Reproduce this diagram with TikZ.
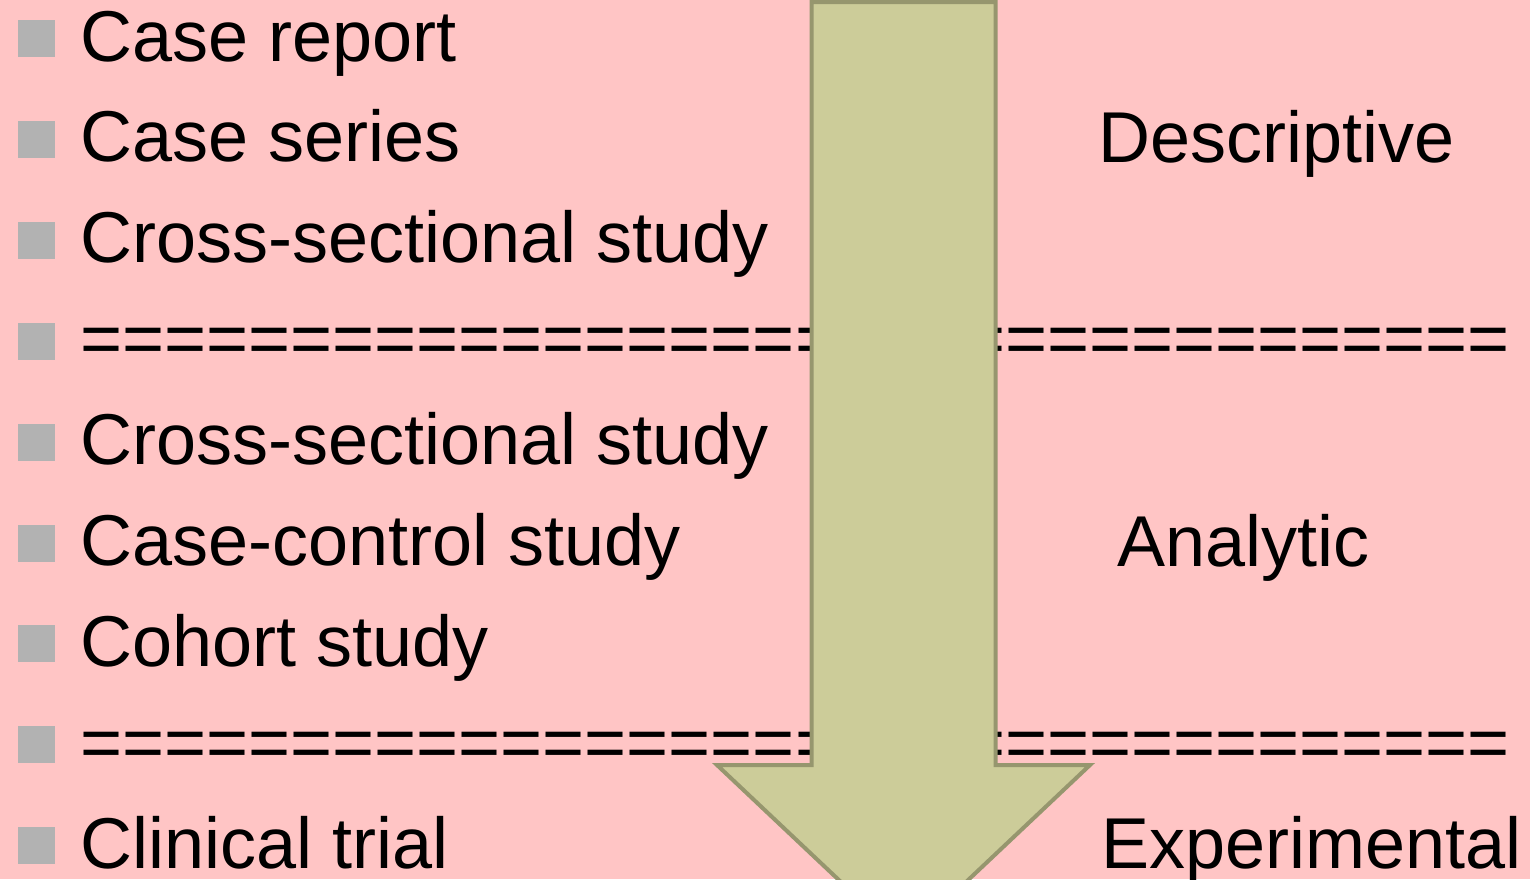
\documentclass[tikz,border=0pt]{standalone}
\usepackage{fontspec}
\setmainfont{Liberation Sans}
\definecolor{slidebg}{RGB}{255,197,197}
\definecolor{bulletgray}{RGB}{178,178,178}
\definecolor{arrowfill}{RGB}{204,204,153}
\definecolor{arrowline}{RGB}{150,150,110}
\begin{document}
\begin{tikzpicture}[x=1pt,y=-1pt,
  item/.style={anchor=base west,inner sep=0pt,font=\fontsize{72}{86}\selectfont},
  bulletsq/.style={fill=bulletgray,draw=none,minimum size=37pt,inner sep=0pt},
  category/.style={anchor=base west,inner sep=0pt,font=\fontsize{72}{86}\selectfont}]
  % background
  \fill[slidebg] (0,0) rectangle (1530,879);
  \useasboundingbox (0,0) rectangle (1530,879);

  % bulleted list
  \foreach \i/\txt in {0/Case report,1/Case series,2/Cross-sectional study,
      3/==================================,4/Cross-sectional study,
      5/Case-control study,6/Cohort study,
      7/==================================,8/Clinical trial}{
    \pgfmathsetmacro{\yb}{61+100.9*\i}
    \node[bulletsq] (b\i) at (36.5,\yb-22.5) {};
    \node[item] (t\i) at (80,\yb) {\txt};
  }

  % categories on the right
  \node[category] (descr) at (1098,162) {Descriptive};
  \node[category] (anal)  at (1117,566) {Analytic};
  \node[category] (expt)  at (1101,868) {Experimental};

  % big downward arrow
  \begin{scope}
    \clip (0,0) rectangle (1530,879);
    \draw[fill=arrowfill,draw=arrowline,line width=4pt,line join=miter]
      (811.5,2) -- (995.5,2) -- (995.5,765) -- (1090,765) -- (903.5,941)
      -- (717,765) -- (811.5,765) -- cycle;
  \end{scope}
\end{tikzpicture}
\end{document}
